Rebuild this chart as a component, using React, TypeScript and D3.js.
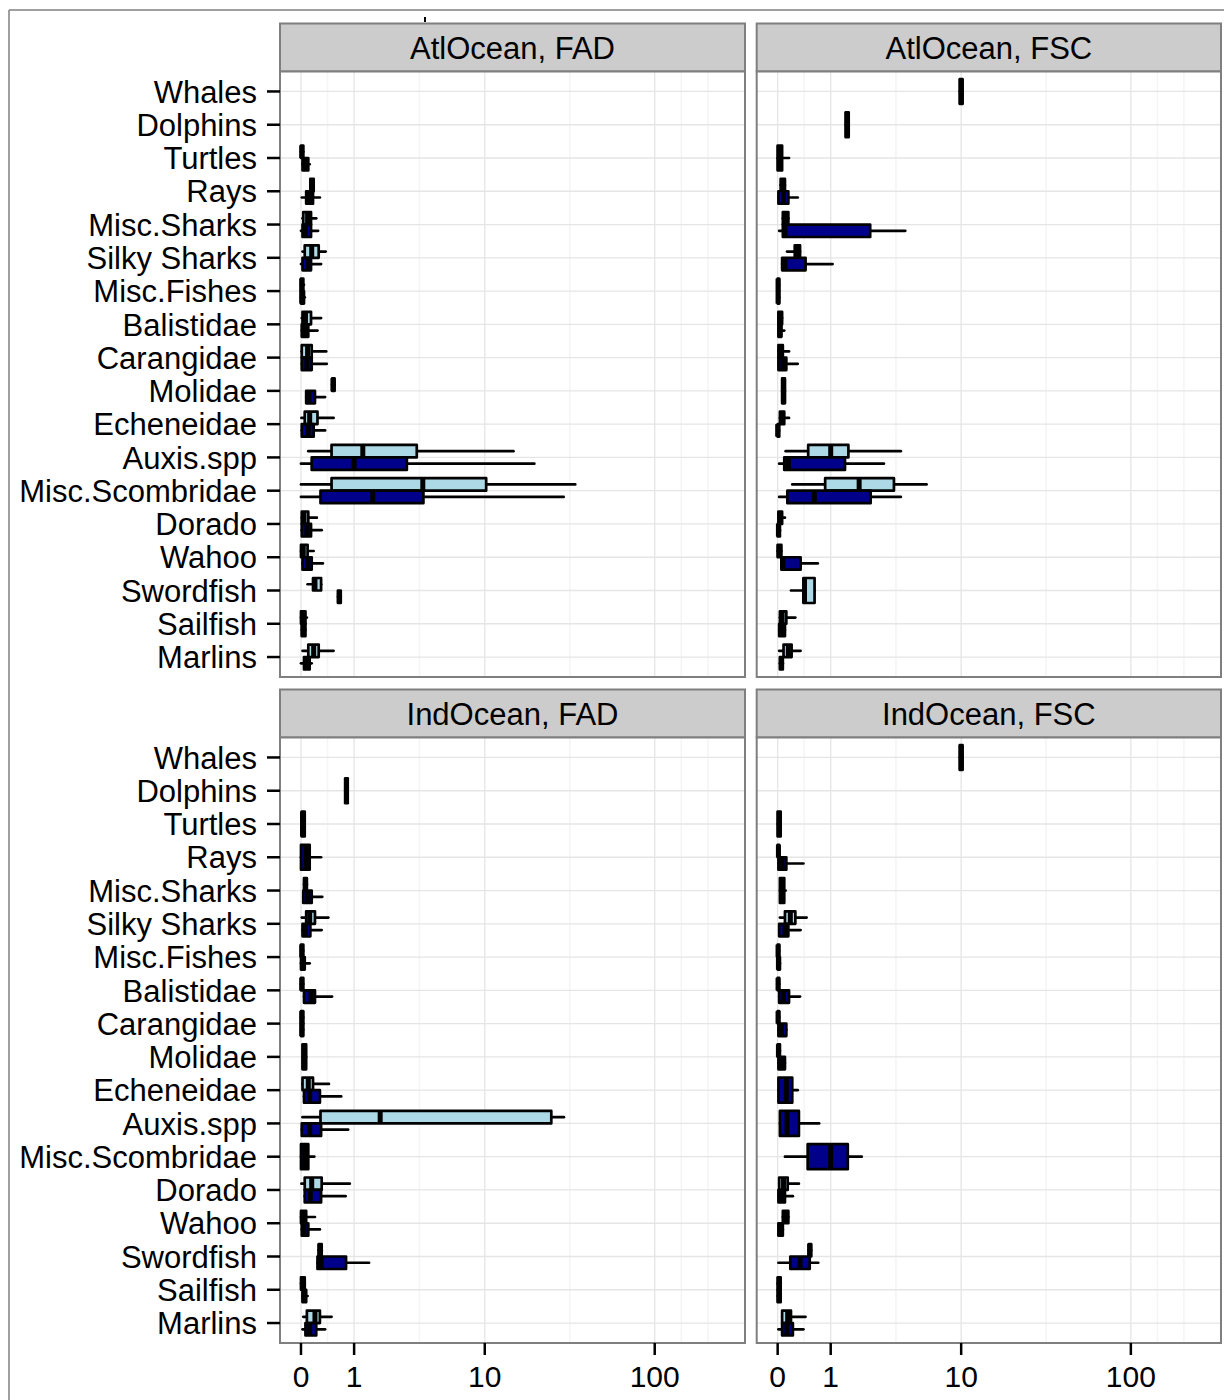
import React from 'react';
import * as d3 from 'd3';

// ---------- data ----------
const species = ['Whales', 'Dolphins', 'Turtles', 'Rays', 'Misc.Sharks', 'Silky Sharks', 'Misc.Fishes', 'Balistidae', 'Carangidae', 'Molidae', 'Echeneidae', 'Auxis.spp', 'Misc.Scombridae', 'Dorado', 'Wahoo', 'Swordfish', 'Sailfish', 'Marlins'];
const panelTitles = ['AtlOcean, FAD', 'AtlOcean, FSC', 'IndOcean, FAD', 'IndOcean, FSC'];
const xTickValues = [0, 1, 10, 100];
const xTickLabels = ['0', '1', '10', '100'];

// each entry: [lowerWhisker, q1, median, q3, upperWhisker] or null
type Stat = number[] | null;

const atlFadLight: Stat[] = [
  null, null,
  [0, 0, 0.01, 0.03, 0.03],
  [0.13, 0.13, 0.15, 0.18, 0.18],
  [0.02, 0.03, 0.09, 0.14, 0.22],
  [0.02, 0.05, 0.15, 0.26, 0.38],
  [0, 0, 0.01, 0.03, 0.04],
  [0.01, 0.02, 0.06, 0.14, 0.3],
  [0.01, 0.01, 0.09, 0.15, 0.39],
  [0.5, 0.5, 0.52, 0.55, 0.55],
  [0.005, 0.05, 0.12, 0.24, 0.53],
  [0.1, 0.49, 1.24, 3.53, 15.0],
  [0, 0.49, 3.9, 10.2, 34.8],
  [0.01, 0.01, 0.04, 0.1, 0.23],
  [0, 0, 0.03, 0.09, 0.18],
  [0.09, 0.17, 0.2, 0.3, 0.3],
  [0, 0, 0.02, 0.06, 0.08],
  [0.02, 0.1, 0.18, 0.26, 0.53],
];
const atlFadNavy: Stat[] = [
  null, null,
  [0.02, 0.02, 0.06, 0.1, 0.12],
  [0.01, 0.07, 0.115, 0.17, 0.28],
  [0, 0.02, 0.06, 0.14, 0.25],
  [0, 0.02, 0.1, 0.14, 0.3],
  [0, 0, 0.01, 0.04, 0.05],
  [0.01, 0.01, 0.06, 0.1, 0.24],
  [0.01, 0.01, 0.08, 0.15, 0.4],
  [0.07, 0.07, 0.11, 0.2, 0.37],
  [0.01, 0.01, 0.1, 0.18, 0.37],
  [0, 0.15, 1.0, 2.98, 20.0],
  [0, 0.29, 1.55, 3.94, 29.8],
  [0.01, 0.01, 0.08, 0.14, 0.31],
  [0.02, 0.02, 0.09, 0.15, 0.33],
  [0.62, 0.62, 0.65, 0.68, 0.68],
  [0.01, 0.01, 0.03, 0.06, 0.06],
  [0, 0.04, 0.08, 0.12, 0.15],
];
const atlFscLight: Stat[] = [
  [9.8, 9.8, 10, 10.2, 10.2],
  [1.43, 1.43, 1.48, 1.53, 1.53],
  [0, 0, 0.02, 0.06, 0.16],
  [0.04, 0.04, 0.07, 0.1, 0.1],
  [0.07, 0.07, 0.1, 0.15, 0.15],
  [0.13, 0.25, 0.3, 0.34, 0.34],
  [0, 0, 0.005, 0.02, 0.02],
  [0.01, 0.01, 0.03, 0.06, 0.06],
  [0.01, 0.01, 0.04, 0.07, 0.16],
  [0.06, 0.06, 0.08, 0.1, 0.1],
  [0.03, 0.03, 0.06, 0.09, 0.16],
  [0.11, 0.49, 1.0, 1.52, 4.0],
  [0.21, 0.86, 1.9, 3.57, 6.0],
  [0.01, 0.01, 0.03, 0.06, 0.1],
  [0, 0, 0.02, 0.05, 0.05],
  [0.19, 0.4, 0.42, 0.62, 0.62],
  [0.03, 0.03, 0.06, 0.12, 0.26],
  [0.02, 0.08, 0.15, 0.2, 0.35],
];
const atlFscNavy: Stat[] = [
  null, null, null,
  [0.01, 0.01, 0.08, 0.15, 0.3],
  [0.02, 0.07, 0.1, 2.35, 4.3],
  [0.06, 0.06, 0.1, 0.44, 1.05],
  [0, 0, 0.005, 0.02, 0.02],
  [0.01, 0.01, 0.03, 0.05, 0.09],
  [0.01, 0.01, 0.07, 0.12, 0.3],
  null,
  [0, 0, 0, 0.02, 0.02],
  [0.02, 0.09, 0.15, 1.41, 3.01],
  [0.02, 0.135, 0.615, 2.37, 4.0],
  [0, 0, 0.01, 0.03, 0.03],
  [0.05, 0.05, 0.07, 0.35, 0.69],
  null,
  [0.02, 0.02, 0.05, 0.1, 0.1],
  [0.03, 0.03, 0.05, 0.07, 0.07],
];
const indFadLight: Stat[] = [
  null,
  [0.78, 0.78, 0.81, 0.84, 0.84],
  [0.01, 0.01, 0.02, 0.05, 0.05],
  null,
  [0.04, 0.04, 0.06, 0.08, 0.08],
  [0.01, 0.07, 0.12, 0.2, 0.43],
  [0, 0, 0.01, 0.03, 0.03],
  [0, 0, 0.01, 0.03, 0.03],
  [0, 0, 0.01, 0.03, 0.03],
  [0.02, 0.02, 0.04, 0.07, 0.07],
  [0.02, 0.02, 0.1, 0.17, 0.44],
  [0.02, 0.29, 1.81, 25.2, 29.9],
  null,
  [0.005, 0.05, 0.15, 0.31, 0.89],
  [0, 0, 0.03, 0.07, 0.2],
  [0.26, 0.26, 0.28, 0.31, 0.31],
  [0, 0, 0.02, 0.05, 0.05],
  [0.03, 0.08, 0.2, 0.28, 0.49],
];
const indFadNavy: Stat[] = [
  null, null, null,
  [0, 0, 0.07, 0.12, 0.3],
  [0.03, 0.03, 0.09, 0.15, 0.32],
  [0.02, 0.02, 0.06, 0.13, 0.31],
  [0, 0, 0.02, 0.05, 0.12],
  [0.04, 0.04, 0.14, 0.2, 0.5],
  [0, 0, 0.01, 0.03, 0.03],
  null,
  [0.04, 0.04, 0.12, 0.28, 0.69],
  [0.01, 0.01, 0.12, 0.3, 0.85],
  [0, 0, 0.05, 0.1, 0.19],
  [0.05, 0.05, 0.13, 0.3, 0.79],
  [0.01, 0.01, 0.04, 0.1, 0.28],
  [0.24, 0.24, 0.3, 0.8, 1.43],
  [0.02, 0.02, 0.04, 0.07, 0.09],
  [0.02, 0.06, 0.12, 0.22, 0.37],
];
const indFscLight: Stat[] = [
  [9.8, 9.8, 10, 10.2, 10.2],
  null,
  [0, 0, 0.02, 0.04, 0.04],
  [0, 0, 0.01, 0.02, 0.02],
  [0.03, 0.03, 0.06, 0.09, 0.11],
  [0.03, 0.1, 0.18, 0.26, 0.46],
  [0, 0, 0.005, 0.02, 0.02],
  [0, 0, 0.005, 0.02, 0.02],
  [0, 0, 0.005, 0.02, 0.02],
  [0, 0, 0.01, 0.03, 0.03],
  null, null, null,
  [0.02, 0.02, 0.08, 0.14, 0.32],
  [0.07, 0.07, 0.1, 0.15, 0.15],
  [0.5, 0.5, 0.52, 0.55, 0.55],
  [0, 0, 0.02, 0.04, 0.04],
  [0.06, 0.06, 0.14, 0.19, 0.44],
];
const indFscNavy: Stat[] = [
  null, null, null,
  [0.01, 0.01, 0.06, 0.12, 0.4],
  null,
  [0.02, 0.02, 0.1, 0.15, 0.35],
  [0, 0, 0.01, 0.03, 0.03],
  [0.02, 0.02, 0.08, 0.16, 0.34],
  [0.01, 0.01, 0.05, 0.12, 0.12],
  [0.01, 0.01, 0.05, 0.1, 0.1],
  [0.01, 0.01, 0.12, 0.21, 0.3],
  [0.03, 0.03, 0.13, 0.32, 0.72],
  [0.1, 0.48, 1.0, 1.5, 2.0],
  [0.01, 0.01, 0.06, 0.1, 0.22],
  [0.01, 0.01, 0.03, 0.07, 0.07],
  [0.01, 0.18, 0.34, 0.52, 0.7],
  [0, 0, 0.02, 0.04, 0.04],
  [0.01, 0.06, 0.13, 0.22, 0.4],
];

const groupColors = ['#ADD8E6', '#00008B'];

// ---------- layout ----------
const W = 1224;
const H = 1400;
const colX: [number, number][] = [[280, 745], [756.7, 1221]];
const rowY: [number, number][] = [[71.5, 677], [737.5, 1343]];
const stripH = 48;
const FONT = '"Liberation Sans", Arial, Helvetica, sans-serif';
const FS_Y = 31;
const FS_STRIP = 31;
const FS_X = 30;

function Panel({ title, light, navy, col, row }: { title: string; light: Stat[]; navy: Stat[]; col: number; row: number }) {
  const [x0, x1] = colX[col];
  const [y0, y1] = rowY[row];
  const x = d3.scaleSymlog().constant(1).domain([-0.315, 327]).range([x0, x1]);
  const y = d3.scalePoint<string>().domain(species).range([y0, y1]).padding(0.6);
  const step = y.step();
  const boxW = 0.75 * step;

  const majors = xTickValues.map((v) => x(v));
  const bd = majors[1] - majors[0];
  const ext = [...majors, majors[majors.length - 1] + bd];
  const minors: number[] = [];
  for (let i = 0; i < ext.length - 1; i++) minors.push((ext[i] + ext[i + 1]) / 2);
  minors.push(ext[ext.length - 1]);

  const boxes: { s: number[]; top: number; bottom: number; fill: string; cy: number }[] = [];
  species.forEach((sp, i) => {
    const groups = [light[i], navy[i]];
    const present = groups.map((g, gi) => ({ g, gi })).filter((o) => o.g);
    const cy = y(sp)!;
    present.forEach((o, k) => {
      let top: number, bottom: number;
      if (present.length === 1) {
        top = cy - boxW / 2;
        bottom = cy + boxW / 2;
      } else {
        top = k === 0 ? cy - boxW / 2 : cy;
        bottom = k === 0 ? cy : cy + boxW / 2;
      }
      boxes.push({ s: o.g as number[], top, bottom, fill: groupColors[o.gi], cy: (top + bottom) / 2 });
    });
  });

  const sy0 = y0 - stripH;

  return (
    <g>
      {/* strip */}
      <rect x={x0} y={sy0} width={x1 - x0} height={stripH} fill="#CCCCCC" stroke="#7F7F7F" strokeWidth={2} />
      <text x={(x0 + x1) / 2} y={sy0 + stripH / 2} dy="0.36em" textAnchor="middle" fontFamily={FONT} fontSize={FS_STRIP} fill="#000">
        {title}
      </text>
      {/* panel background */}
      <rect x={x0} y={y0} width={x1 - x0} height={y1 - y0} fill="#fff" />
      {/* minor grid */}
      {minors.filter((m) => m > x0 && m < x1).map((m, i) => (
        <line key={'mn' + i} x1={m} x2={m} y1={y0} y2={y1} stroke="#F5F5F5" strokeWidth={1.6} />
      ))}
      {/* major grid */}
      {majors.map((m, i) => (
        <line key={'mj' + i} x1={m} x2={m} y1={y0} y2={y1} stroke="#E5E5E5" strokeWidth={1.3} />
      ))}
      {species.map((sp) => (
        <line key={'hg' + sp} x1={x0} x2={x1} y1={y(sp)} y2={y(sp)} stroke="#E5E5E5" strokeWidth={1.3} />
      ))}
      {/* boxes */}
      {boxes.map((b, i) => {
        const [lo, q1, med, q3, hi] = b.s;
        return (
          <g key={'b' + i}>
            <line x1={x(lo)} x2={x(q1)} y1={b.cy} y2={b.cy} stroke="#000" strokeWidth={2.7} strokeLinecap="round" />
            <line x1={x(q3)} x2={x(hi)} y1={b.cy} y2={b.cy} stroke="#000" strokeWidth={2.7} strokeLinecap="round" />
            <rect x={x(q1)} y={b.top} width={Math.max(0, x(q3) - x(q1))} height={b.bottom - b.top} fill={b.fill} stroke="#000" strokeWidth={2.7} strokeLinejoin="round" />
            <line x1={x(med)} x2={x(med)} y1={b.top} y2={b.bottom} stroke="#000" strokeWidth={5} />
          </g>
        );
      })}
      {/* panel border */}
      <rect x={x0} y={y0} width={x1 - x0} height={y1 - y0} fill="none" stroke="#7F7F7F" strokeWidth={2} />
      {/* y axis (first column only) */}
      {col === 0 && species.map((sp) => (
        <g key={'yt' + sp}>
          <line x1={x0 - 13} x2={x0} y1={y(sp)} y2={y(sp)} stroke="#000" strokeWidth={2.5} />
          <text x={x0 - 23} y={y(sp)} dy="0.36em" textAnchor="end" fontFamily={FONT} fontSize={FS_Y} fill="#000">{sp}</text>
        </g>
      ))}
      {/* x axis (bottom row only) */}
      {row === 1 && xTickValues.map((v, i) => (
        <g key={'xt' + i}>
          <line x1={x(v)} x2={x(v)} y1={y1} y2={y1 + 12} stroke="#000" strokeWidth={2.5} />
          <text x={x(v)} y={y1 + 44} textAnchor="middle" fontFamily={FONT} fontSize={FS_X} fill="#000">{xTickLabels[i]}</text>
        </g>
      ))}
    </g>
  );
}

export default function App() {
  const panels = [
    { title: panelTitles[0], light: atlFadLight, navy: atlFadNavy, col: 0, row: 0 },
    { title: panelTitles[1], light: atlFscLight, navy: atlFscNavy, col: 1, row: 0 },
    { title: panelTitles[2], light: indFadLight, navy: indFadNavy, col: 0, row: 1 },
    { title: panelTitles[3], light: indFscLight, navy: indFscNavy, col: 1, row: 1 },
  ];
  return (
    <svg width={W} height={H} style={{ position: 'absolute', left: 0, top: 0, display: 'block' }}>
      <rect x={0} y={0} width={W} height={H} fill="#fff" />
      <line x1={9} x2={9} y1={10} y2={H} stroke="#808080" strokeWidth={1.5} />
      <line x1={9} x2={W} y1={10} y2={10} stroke="#808080" strokeWidth={1.5} />
      <line x1={425} x2={425} y1={17} y2={22} stroke="#000" strokeWidth={2} />
      {panels.map((p, i) => (
        <Panel key={i} {...p} />
      ))}
    </svg>
  );
}
